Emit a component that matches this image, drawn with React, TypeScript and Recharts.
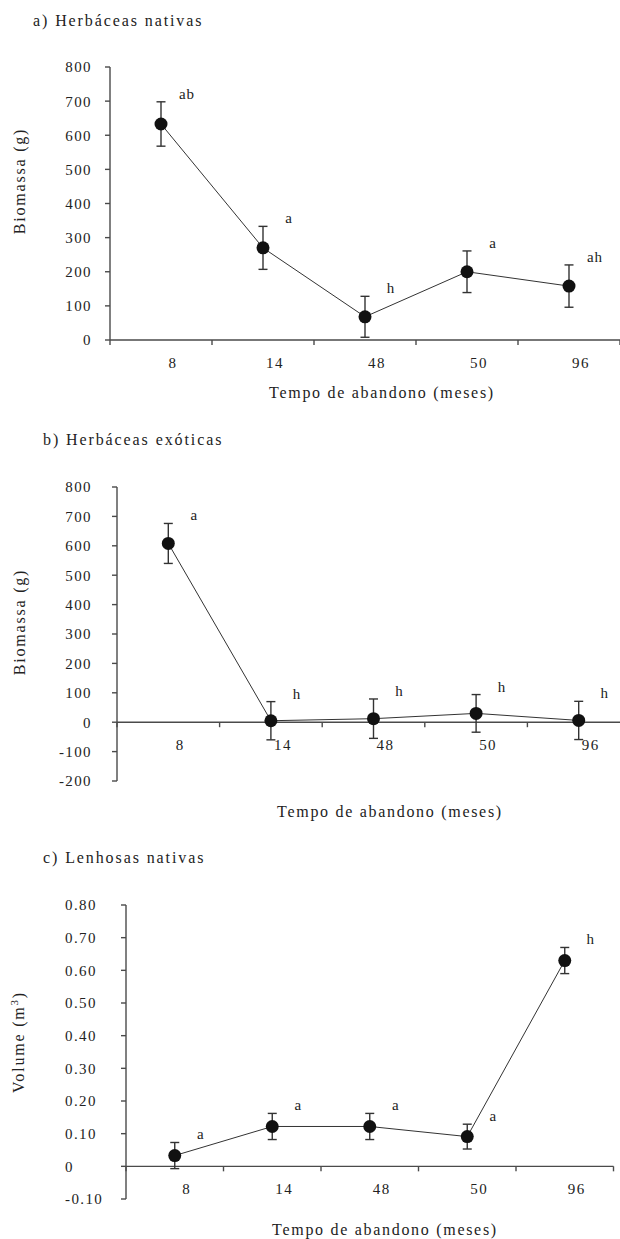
import React from 'react';
import { LineChart, Line, XAxis, YAxis, ErrorBar, ReferenceLine, ReferenceDot, LabelList } from 'recharts';

// ---- data ----
const categories = ['8', '14', '48', '50', '96'];

const nativasMean = [633, 270, 68, 200, 158];
const nativasErr = [65, 63, 60, 61, 62];
const nativasLetters = ['ab', 'a', 'h', 'a', 'ah'];

const exoticasMean = [608, 5, 12, 30, 6];
const exoticasErr = [68, 65, 67, 64, 65];
const exoticasLetters = ['a', 'h', 'h', 'h', 'h'];

const lenhosasMean = [0.033, 0.122, 0.122, 0.091, 0.63];
const lenhosasErr = [0.04, 0.04, 0.04, 0.038, 0.04];
const lenhosasLetters = ['a', 'a', 'a', 'a', 'h'];

const biomassTicksA = [0, 100, 200, 300, 400, 500, 600, 700, 800];
const biomassTicksB = [-200, -100, 0, 100, 200, 300, 400, 500, 600, 700, 800];
const volumeTicks = [-0.1, 0, 0.1, 0.2, 0.3, 0.4, 0.5, 0.6, 0.7, 0.8];

// ---- style ----
const FONT = '"Liberation Serif", "Times New Roman", serif';
const INK = '#222';
const AXIS = '#4a4a4a';

type Row = { idx: number; cat: string; mean: number; err: number; top: number; letter: string };

function buildRows(mean: number[], err: number[], letters: string[]): Row[] {
  return categories.map((c, i) => ({ idx: i, cat: c, mean: mean[i], err: err[i], top: mean[i] + err[i], letter: letters[i] }));
}

const boundaries = categories.map((_, i) => i - 0.5).concat([categories.length - 0.5]);

type PanelProps = {
  rows: Row[];
  yDomain: [number, number];
  yTicks: number[];
  yFmt: (v: number) => string;
  yAxisWidth: number;
  tickMargin: number;
  tickAnchor: 'end' | 'start';
  tickStartX?: number;
  width: number;
  height: number;
  marginTop: number;
  marginBottom: number;
  marginRight: number;
};

function Panel(p: PanelProps) {
  const YTick = (props: any) => {
    const { x, y, payload } = props;
    const tx = p.tickAnchor === 'end' ? x : (p.tickStartX as number);
    return (
      <text x={tx} y={y} dy="0.36em" textAnchor={p.tickAnchor} fontFamily={FONT} fontSize={15} letterSpacing={1.4} fill={INK}>
        {p.yFmt(payload.value)}
      </text>
    );
  };
  const LetterLabel = (props: any) => {
    const { x, y, value } = props;
    return (
      <text x={x + 26} y={y - 3} textAnchor="middle" fontFamily={FONT} fontSize={15} letterSpacing={1} fill={INK}>
        {value}
      </text>
    );
  };
  return (
    <LineChart
      width={p.width}
      height={p.height}
      data={p.rows}
      margin={{ top: p.marginTop, right: p.marginRight, bottom: p.marginBottom, left: 0 }}
    >
      <XAxis dataKey="idx" type="number" domain={[-0.5, categories.length - 0.5]} hide allowDataOverflow />
      <YAxis
        type="number"
        domain={p.yDomain}
        ticks={p.yTicks}
        interval={0}
        width={p.yAxisWidth}
        tickSize={5}
        tickMargin={p.tickMargin}
        allowDataOverflow
        axisLine={{ stroke: AXIS, strokeWidth: 1.4 }}
        tickLine={{ stroke: AXIS, strokeWidth: 1.4 }}
        tick={YTick}
      />
      <ReferenceLine y={0} stroke={AXIS} strokeWidth={1.4} ifOverflow="visible" />
      {boundaries.map((b) => (
        <ReferenceDot
          key={'t' + b}
          x={b}
          y={0}
          r={1}
          ifOverflow="visible"
          shape={(sp: any) => <line x1={sp.cx} y1={sp.cy} x2={sp.cx} y2={sp.cy + 5} stroke={AXIS} strokeWidth={1.4} />}
        />
      ))}
      {p.rows.map((r) => (
        <ReferenceDot
          key={'c' + r.idx}
          x={r.idx}
          y={0}
          r={1}
          ifOverflow="visible"
          shape={(sp: any) => (
            <text x={sp.cx + 12} y={sp.cy + 28} textAnchor="middle" fontFamily={FONT} fontSize={15} letterSpacing={1.4} fill={INK}>
              {r.cat}
            </text>
          )}
        />
      ))}
      <Line dataKey="top" stroke="none" dot={false} activeDot={false} isAnimationActive={false} legendType="none">
        <LabelList dataKey="letter" content={LetterLabel} />
      </Line>
      <Line
        dataKey="mean"
        stroke="#333"
        strokeWidth={1}
        dot={{ r: 6.5, fill: '#111', stroke: '#111', strokeWidth: 0 }}
        activeDot={false}
        isAnimationActive={false}
      >
        <ErrorBar dataKey="err" width={4.5} stroke="#333" strokeWidth={1.4} direction="y" isAnimationActive={false} />
      </Line>
    </LineChart>
  );
}

const txt = { fontFamily: FONT, fill: INK } as const;

export default function App() {
  const rowsA = buildRows(nativasMean, nativasErr, nativasLetters);
  const rowsB = buildRows(exoticasMean, exoticasErr, exoticasLetters);
  const rowsC = buildRows(lenhosasMean, lenhosasErr, lenhosasLetters);
  const intFmt = (v: number) => String(v);
  const volFmt = (v: number) => (v === 0 ? '0' : v.toFixed(2));
  return (
    <div style={{ position: 'absolute', left: 0, top: 0, width: 620, height: 1239, overflow: 'hidden', background: '#fff' }}>
      <div style={{ position: 'absolute', left: 0, top: 0 }}>
        <Panel
          rows={rowsA}
          yDomain={[0, 800]}
          yTicks={biomassTicksA}
          yFmt={intFmt}
          yAxisWidth={110}
          tickMargin={13}
          tickAnchor="end"
          width={620}
          height={420}
          marginTop={67}
          marginBottom={80}
          marginRight={0}
        />
      </div>
      <div style={{ position: 'absolute', left: 0, top: 420 }}>
        <Panel
          rows={rowsB}
          yDomain={[-200, 800]}
          yTicks={biomassTicksB}
          yFmt={intFmt}
          yAxisWidth={117}
          tickMargin={20}
          tickAnchor="end"
          width={630}
          height={420}
          marginTop={67}
          marginBottom={59}
          marginRight={0}
        />
      </div>
      <div style={{ position: 'absolute', left: 0, top: 840 }}>
        <Panel
          rows={rowsC}
          yDomain={[-0.1, 0.8]}
          yTicks={volumeTicks}
          yFmt={volFmt}
          yAxisWidth={126}
          tickMargin={0}
          tickAnchor="start"
          tickStartX={65}
          width={620}
          height={399}
          marginTop={65}
          marginBottom={40}
          marginRight={6.5}
        />
      </div>
      <svg width={620} height={1239} style={{ position: 'absolute', left: 0, top: 0, pointerEvents: 'none' }}>
        <text x={33} y={26} fontSize={16} letterSpacing={1.9} {...txt}>a) Herbáceas nativas</text>
        <text x={43} y={445} fontSize={16} letterSpacing={1.9} {...txt}>b) Herbáceas exóticas</text>
        <text x={43} y={863} fontSize={16} letterSpacing={1.9} {...txt}>c) Lenhosas nativas</text>

        <text transform="translate(25,181) rotate(-90)" textAnchor="middle" fontSize={16} letterSpacing={1.8} {...txt}>Biomassa (g)</text>
        <text transform="translate(25,622) rotate(-90)" textAnchor="middle" fontSize={16} letterSpacing={1.8} {...txt}>Biomassa (g)</text>
        <text transform="translate(24,1042) rotate(-90)" textAnchor="middle" fontSize={16} letterSpacing={1.8} {...txt}>
          Volume (m<tspan dy={-6} fontSize={11}>3</tspan><tspan dy={6}>)</tspan>
        </text>

        <text x={382} y={398} textAnchor="middle" fontSize={16} letterSpacing={1.7} {...txt}>Tempo de abandono (meses)</text>
        <text x={390} y={817} textAnchor="middle" fontSize={16} letterSpacing={1.7} {...txt}>Tempo de abandono (meses)</text>
        <text x={385} y={1235} textAnchor="middle" fontSize={16} letterSpacing={1.7} {...txt}>Tempo de abandono (meses)</text>
      </svg>
    </div>
  );
}
